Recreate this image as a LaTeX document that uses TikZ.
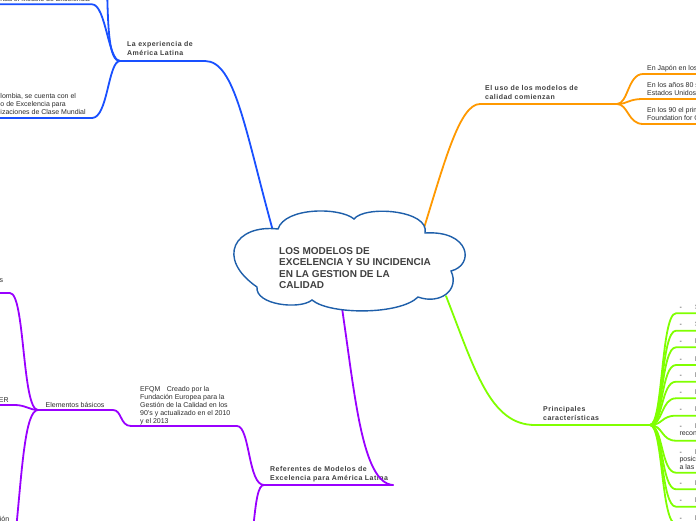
\documentclass[tikz,border=0pt]{standalone}
\usepackage{fontspec}
\setmainfont{Liberation Sans}
\newfontfamily\lblfont{Liberation Sans}[LetterSpace=7]
\definecolor{cbl}{RGB}{25,80,255}
\definecolor{cor}{RGB}{255,153,0}
\definecolor{cgr}{RGB}{128,255,0}
\definecolor{cpu}{RGB}{153,0,255}
\definecolor{ccl}{RGB}{30,95,170}
\definecolor{tx}{RGB}{45,45,45}
\definecolor{tl}{RGB}{64,64,64}
\begin{document}
\begin{tikzpicture}[x=1pt,y=-1pt,
  br/.style={line width=1.8pt,line cap=round},
  lbl/.style={font=\lblfont\fontsize{7}{9}\selectfont\bfseries,text=tl,align=left,inner sep=0pt,anchor=north west},
  ttl/.style={font=\fontsize{10}{11.3}\selectfont\bfseries,text=tl,align=left,inner sep=0pt,anchor=north west},
  txt/.style={font=\fontsize{7}{8.1}\selectfont,text=tx,align=left,inner sep=0pt,anchor=north west},
  gtx/.style={font=\fontsize{7}{7.6}\selectfont,text=tx,align=left,inner sep=0pt,anchor=north west},
  one/.style={font=\fontsize{7}{8.1}\selectfont,text=tx,inner sep=0pt,anchor=base west},
  ]
\useasboundingbox (0,0) rectangle (696,520);
\fill[white] (0,0) rectangle (696,520);
\clip (0,0) rectangle (696,520);

% anchor points
\coordinate (cB) at (273,231);
\coordinate (cO) at (424,228);
\coordinate (cG) at (446,296);
\coordinate (cP) at (342,308);
\coordinate (bJ) at (120,61);
\coordinate (bE) at (205,61);
\coordinate (oS) at (480,104);
\coordinate (oJ) at (617,104);
\coordinate (gS) at (535,425);
\coordinate (gJ) at (650,425);
\coordinate (pE) at (393,485);
\coordinate (pJ) at (264,485);
\coordinate (eE) at (237,426);
\coordinate (eS) at (131,426);
\coordinate (kE) at (113,410);
\coordinate (kJ) at (38,410);

% blue branch
\draw[br,cbl] (bJ) -- (bE) .. controls (235,61) and (245,130) .. (cB);
\draw[br,cbl] (bJ) .. controls (108,61) and (106,4.3) .. (92,4.3) -- (-5,4.3);
\draw[br,cbl] (bJ) .. controls (109,61) and (108,30) .. (107,-15);
\draw[br,cbl] (bJ) .. controls (108,61) and (108,118) .. (92,118) -- (-5,118);

% orange branch
\draw[br,cor] (cO) .. controls (445,160) and (460,104) .. (oS) -- (oJ);
\draw[br,cor] (oJ) .. controls (628,104) and (628,74) .. (643,74) -- (700,74);
\draw[br,cor] (oJ) .. controls (628,104) and (628,99) .. (643,99) -- (700,99);
\draw[br,cor] (oJ) .. controls (628,104) and (628,124) .. (643,124) -- (700,124);

% green branch
\draw[br,cgr] (cG) .. controls (475,370) and (490,425) .. (gS) -- (gJ);
\foreach \u in {313.3,330.7,347.3,365,381.7,398.3,415.7,440.7,472.7,489.3,506.7,524}
  \draw[br,cgr] (gJ) .. controls (663,425) and (661,\u) .. (676,\u) -- (700,\u);

% purple branch
\draw[br,cpu] (eS) -- (eE) .. controls (250,426) and (248,485) .. (pJ);
\draw[br,cpu] (pJ) .. controls (258,485) and (256,500) .. (253,530);
\draw[br,cpu] (kJ) -- (kE) .. controls (122,410) and (120,426) .. (eS);
\draw[br,cpu] (kJ) .. controls (22,410) and (25,293) .. (10,293) -- (-5,293);
\draw[br,cpu] (kJ) .. controls (30,410) and (25,405) .. (15,405) -- (-5,405);
\draw[br,cpu] (kJ) .. controls (25,410) and (22,470) .. (16,530);

% labels
\node[lbl] (lat) at (127,41.5) {La experiencia de\\América Latina};
\node[lbl] (uso) at (485,85) {El uso de los modelos de\\calidad comienzan};
\node[lbl] (pri) at (543,406) {Principales\\caracter\'isticas};
\node[lbl] (ref) at (270,466.7) {Referentes de Modelos de\\Excelencia para Am\'erica Latina};
\draw[br,cpu] (pJ) -- (pE);
\draw[br,cpu] (cP) .. controls (355,395) and (362,483) .. (pE);

\node[txt] (efqm) at (140,386) {EFQM\hspace{6.4pt}Creado por la\\Fundaci\'on Europea para la\\Gesti\'on de la Calidad en los\\90's y actualizado en el 2010\\y el 2013};
\node[one] (ele) at (45.5,407.4) {Elementos b\'asicos};
\node[one,anchor=base east] (top) at (90,1.3) {nda el Modelo de Excelencia};
\node[txt] (col) at (0.3,93) {lombia, se cuenta con el\\o de Excelencia para\\izaciones de Clase Mundial};
\node[one] (ss) at (-0.6,282.3) {s};
\node[one,anchor=base east] (er) at (8.8,402) {ER};
\node[one] (ion) at (-0.3,521.5) {i\'on};

\node[one] (jap) at (647,70) {En Jap\'on en los};
\node[txt] (a80) at (647,82.3) {En los a\~nos 80 s\\Estados Unidos};
\node[txt] (a90) at (647,107.3) {En los 90 el prim\\Foundation for Q};

% green items
\foreach \u/\l [count=\i] in {313.3/S,330.7/S,347.3/E,365/E,381.7/E,398.3/E,415.7/E,489.3/E,506.7/E,524/E}
  \node[one] (gi\i) at (679.3,\u-4) {-\hspace{13.2pt}\l};
\node[gtx] (gm1) at (679.3,423.3) {-\hspace{13.2pt}E\\reconocimiento};
\node[gtx] (gm2) at (679.3,449) {-\hspace{13.2pt}E\\posicionamiento\\a las};

% cloud
\filldraw[fill=white,draw=ccl,line width=1.4pt]
  (278,229) .. controls (235,224) and (215,258) .. (257,287)
  .. controls (255,305) and (300,310) .. (312,300)
  .. controls (330,315) and (400,315) .. (418,297)
  .. controls (440,305) and (460,290) .. (451,271)
  .. controls (475,265) and (470,230) .. (425,233)
  .. controls (430,210) and (365,205) .. (354,219)
  .. controls (340,207) and (285,207) .. (278,229) -- cycle;
\node[ttl] (title) at (279,247.5) {LOS MODELOS DE\\EXCELENCIA Y SU INCIDENCIA\\EN LA GESTION DE LA\\CALIDAD};
\end{tikzpicture}
\end{document}
